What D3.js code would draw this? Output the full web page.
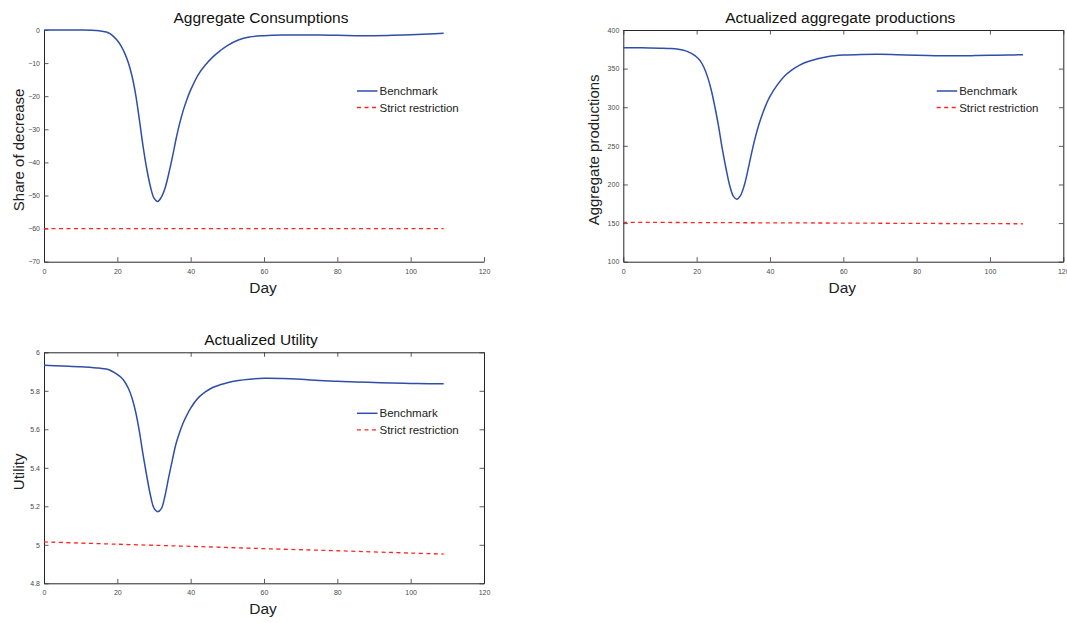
<!DOCTYPE html>
<html>
<head>
<meta charset="utf-8">
<script src="https://cdn.jsdelivr.net/npm/d3@7/dist/d3.min.js"></script>
<style>
  html, body { margin: 0; padding: 0; background: #fff; }
  svg { display: block; font-family: "Liberation Sans", Arial, sans-serif; }
  .tick text { fill: #4a4a4a; font-size: 7px; }
  .tick line { stroke: #333; stroke-width: 0.8; }
  .domain { stroke: #262626; stroke-width: 1; }
</style>
</head>
<body>
<svg id="chart" width="1067" height="623"></svg>
<script>
// Simulation days on the x axis
const dayTicks = [0, 20, 40, 60, 80, 100, 120];
const seriesNames = ["Benchmark", "Strict restriction"];

// Aggregate consumption, share of decrease (%), benchmark path
const consDays = [0, 5, 10, 13, 15, 17, 18, 19, 20, 21, 22, 23, 24, 25, 26, 27, 28, 29, 30, 31, 32, 33, 34, 35, 36, 37, 38, 39, 40, 42, 44, 46, 48, 50, 53, 56, 60, 65, 70, 75, 80, 85, 90, 95, 100, 105, 109];
const consBenchmark = [0, 0, 0, -0.05, -0.2, -0.6, -1.1, -2.0, -3.2, -4.8, -7.0, -9.9, -13.9, -19.5, -27, -35, -41.8, -47.2, -50.8, -51.8, -50.5, -47.8, -43.5, -38.5, -33, -28.2, -24.2, -20.9, -18.1, -13.6, -10.6, -8.2, -6.3, -4.7, -3.0, -2.1, -1.7, -1.5, -1.5, -1.5, -1.6, -1.7, -1.7, -1.6, -1.4, -1.2, -1.0];
const consStrictDays = [0, 109];
const consStrict = [-60, -60];
const consTicks = [0, -10, -20, -30, -40, -50, -60, -70];

// Actualized aggregate productions, benchmark path
const prodDays = consDays;
const prodBenchmark = [377, 377, 376.5, 376, 375, 373, 371, 368.5, 365, 360, 351.5, 339, 322, 300, 275, 246, 221, 199, 185, 181, 186, 199, 219, 241, 261, 278, 292, 304, 314, 329, 340.5, 348.5, 354.3, 358.5, 362.8, 365.8, 367.5, 368.3, 368.5, 368, 367.2, 366.8, 366.7, 366.8, 367.2, 367.6, 368];
const prodStrictDays = [0, 30, 60, 90, 109];
const prodStrict = [151, 150.5, 150, 149.4, 149.1];
const prodTicks = [100, 150, 200, 250, 300, 350, 400];

// Actualized utility, benchmark path
const utilDays = consDays;
const utilBenchmark = [5.933, 5.929, 5.925, 5.921, 5.918, 5.913, 5.907, 5.897, 5.885, 5.870, 5.847, 5.813, 5.763, 5.69, 5.59, 5.47, 5.36, 5.26, 5.19, 5.172, 5.188, 5.255, 5.35, 5.44, 5.525, 5.585, 5.635, 5.675, 5.71, 5.762, 5.794, 5.817, 5.831, 5.842, 5.853, 5.860, 5.865, 5.864, 5.860, 5.854, 5.849, 5.846, 5.843, 5.840, 5.838, 5.837, 5.836];
const utilStrictDays = [0, 20, 40, 60, 80, 100, 109];
const utilStrict = [5.015, 5.003, 4.992, 4.980, 4.969, 4.957, 4.952];
const utilTicks = [4.8, 5, 5.2, 5.4, 5.6, 5.8, 6];

const BLUE = "#2f4ea8";
const RED = "#ff2424";
const TICK = 4.5;

const svg = d3.select("#chart");

function drawPanel(p) {
  const x = d3.scaleLinear().domain([0, 120]).range([p.left, p.right]);
  const y = d3.scaleLinear().domain(d3.extent(p.yTicks)).range([p.bottom, p.top]);
  const g = svg.append("g");

  // axes with inward ticks
  g.append("g")
    .attr("transform", `translate(0,${p.bottom})`)
    .call(d3.axisBottom(x).tickValues(dayTicks).tickSizeInner(-TICK).tickSizeOuter(0).tickPadding(7));
  g.append("g")
    .attr("transform", `translate(${p.left},0)`)
    .call(d3.axisLeft(y).tickValues(p.yTicks).tickFormat(d3.format("~g")).tickSizeInner(-TICK).tickSizeOuter(0).tickPadding(4));

  if (p.box) {
    g.append("g")
      .attr("transform", `translate(0,${p.top})`)
      .call(d3.axisTop(x).tickValues(dayTicks).tickFormat("").tickSizeInner(-TICK).tickSizeOuter(0));
    g.append("g")
      .attr("transform", `translate(${p.right},0)`)
      .call(d3.axisRight(y).tickValues(p.yTicks).tickFormat("").tickSizeInner(-TICK).tickSizeOuter(0));
  }

  // series
  const line = d3.line().x(d => x(d[0])).y(d => y(d[1])).curve(d3.curveCatmullRom.alpha(0.5));
  g.append("path")
    .datum(d3.zip(p.strictDays, p.strict))
    .attr("d", line)
    .attr("fill", "none")
    .attr("stroke", RED)
    .attr("stroke-width", 1.3)
    .attr("stroke-dasharray", "4,3.5");
  g.append("path")
    .datum(d3.zip(p.days, p.bench))
    .attr("d", line)
    .attr("fill", "none")
    .attr("stroke", BLUE)
    .attr("stroke-width", 1.5);

  // titles and labels
  g.append("text")
    .attr("x", (p.left + p.right) / 2 - 3)
    .attr("y", p.top - 7.3)
    .attr("text-anchor", "middle")
    .attr("font-size", 15.5)
    .attr("fill", "#111")
    .text(p.title);
  g.append("text")
    .attr("x", (p.left + p.right) / 2 - 1)
    .attr("y", p.bottom + 31)
    .attr("text-anchor", "middle")
    .attr("font-size", 15.5)
    .attr("fill", "#222")
    .text("Day");
  g.append("text")
    .attr("transform", `translate(${p.left - p.yLabelOffset},${(p.top + p.bottom) / 2 + 4}) rotate(-90)`)
    .attr("text-anchor", "middle")
    .attr("font-size", 15)
    .attr("fill", "#222")
    .text(p.yLabel);

  // legend
  const lg = g.append("g").attr("transform", `translate(${p.legendX},${p.legendY})`);
  const styles = [
    { color: BLUE, dash: null, width: 1.5 },
    { color: RED, dash: "4,3.5", width: 1.3 }
  ];
  seriesNames.forEach((name, i) => {
    const row = lg.append("g").attr("transform", `translate(0,${i * 16.5})`);
    row.append("line")
      .attr("x1", 0).attr("x2", 20.5)
      .attr("stroke", styles[i].color)
      .attr("stroke-width", styles[i].width)
      .attr("stroke-dasharray", styles[i].dash);
    row.append("text")
      .attr("x", 22.5).attr("y", 4)
      .attr("font-size", 11.5)
      .attr("fill", "#222")
      .text(name);
  });
}

drawPanel({
  left: 44, right: 484, top: 30, bottom: 261.7, box: false,
  yTicks: consTicks, days: consDays, bench: consBenchmark,
  strictDays: consStrictDays, strict: consStrict,
  title: "Aggregate Consumptions", yLabel: "Share of decrease", yLabelOffset: 20,
  legendX: 357, legendY: 91
});
drawPanel({
  left: 623.3, right: 1063.3, top: 30, bottom: 261.7, box: true,
  yTicks: prodTicks, days: prodDays, bench: prodBenchmark,
  strictDays: prodStrictDays, strict: prodStrict,
  title: "Actualized aggregate productions", yLabel: "Aggregate productions", yLabelOffset: 24,
  legendX: 936.7, legendY: 91
});
drawPanel({
  left: 44, right: 484, top: 352.3, bottom: 583.3, box: true,
  yTicks: utilTicks, days: utilDays, bench: utilBenchmark,
  strictDays: utilStrictDays, strict: utilStrict,
  title: "Actualized Utility", yLabel: "Utility", yLabelOffset: 20,
  legendX: 357, legendY: 413.3
});
</script>
</body>
</html>
